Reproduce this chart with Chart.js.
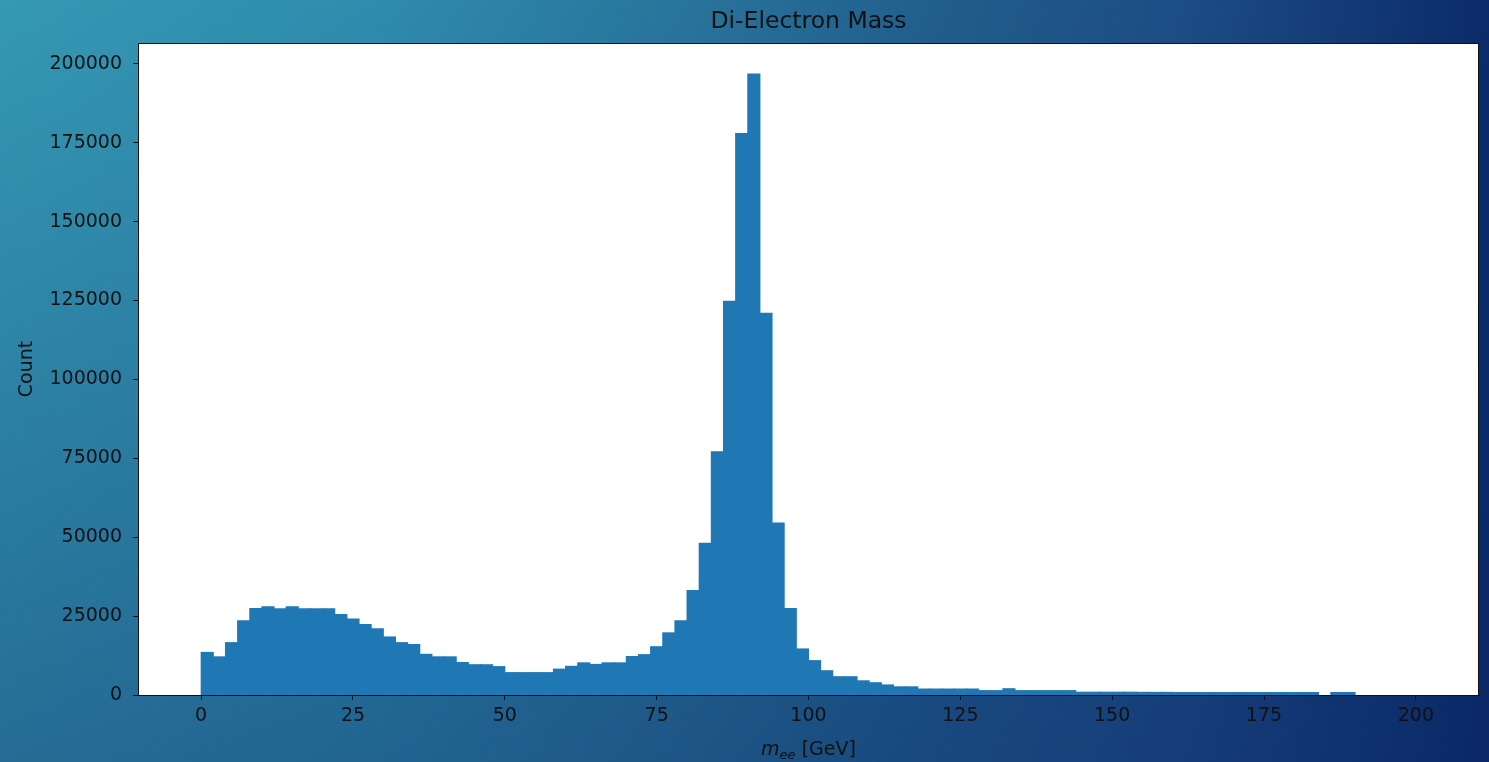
<!DOCTYPE html>
<html lang="en">
<head>
	<meta charset="utf-8">
	<script src="https://cdn.jsdelivr.net/npm/chart.js@4.4.1/dist/chart.umd.min.js"></script>
	<title>Di-Electron Mass</title>
<style>
body {
	margin: 0;
}
#wrap {
	position: relative;
	width: 1489px;
	height: 762px;
	overflow: hidden;
	font-family: "DejaVu Sans", sans-serif;
	color: #111;
	background:
		linear-gradient(to bottom, rgba(10, 35, 100, 0) 0%, rgba(10, 35, 100, 0.38) 100%),
		linear-gradient(to right, #3599b3 0%, #2f8cae 25%, #28739b 47%, #215f8e 62%, #1c4c84 80%, #0b2b69 100%);
}
#box {
	position: absolute;
	left: 0;
	top: 0;
	width: 1489px;
	height: 762px;
}
.title {
	position: absolute;
	left: 138px;
	width: 1341px;
	top: 6px;
	line-height: 28px;
	font-size: 23.5px;
	text-align: center;
}
.xlabel {
	position: absolute;
	left: 138px;
	width: 1341px;
	top: 737px;
	line-height: 22px;
	font-size: 19px;
	text-align: center;
}
.xlabel sub {
	font-size: 13px;
	font-style: italic;
	vertical-align: -4px;
	line-height: 0;
}
</style>
</head>
<body>
<div id="wrap">
	<div id="box"><canvas id="myChart"></canvas></div>
	<div class="title">Di-Electron Mass</div>
	<div class="xlabel"><i>m</i><sub>ee</sub> [GeV]</div>
</div>
<script>
// histogram bins, 2 GeV wide
const binCenters = [1, 3, 5, 7, 9, 11, 13, 15, 17, 19,
	21, 23, 25, 27, 29, 31, 33, 35, 37, 39,
	41, 43, 45, 47, 49, 51, 53, 55, 57, 59,
	61, 63, 65, 67, 69, 71, 73, 75, 77, 79,
	81, 83, 85, 87, 89, 91, 93, 95, 97, 99,
	101, 103, 105, 107, 109, 111, 113, 115, 117, 119,
	121, 123, 125, 127, 129, 131, 133, 135, 137, 139,
	141, 143, 145, 147, 149, 151, 153, 155, 157, 159,
	161, 163, 165, 167, 169, 171, 173, 175, 177, 179,
	181, 183, 185, 187, 189, 191, 193, 195, 197, 199];
const counts = [13500, 12100, 16600, 23500, 27400, 28000, 27300, 28000, 27300, 27300,
	27300, 25500, 24100, 22300, 21000, 18400, 16600, 16000, 12900, 12100,
	12100, 10300, 9600, 9600, 9000, 7100, 7100, 7100, 7100, 8200,
	9100, 10200, 9700, 10200, 10200, 12200, 12800, 15300, 19700, 23500,
	33100, 48100, 77100, 124800, 177900, 196800, 121000, 54500, 27400, 14600,
	10900, 7700, 5800, 5800, 4500, 3900, 3200, 2600, 2600, 1900,
	1900, 1900, 1900, 1900, 1400, 1400, 2000, 1400, 1400, 1400,
	1400, 1400, 900, 900, 900, 900, 900, 850, 850, 850,
	800, 800, 800, 800, 800, 800, 800, 800, 800, 800,
	800, 800, 0, 800, 800, 0, 0, 0, 0, 0];
const xTicks = [0, 25, 50, 75, 100, 125, 150, 175, 200];
const yTicks = [0, 25000, 50000, 75000, 100000, 125000, 150000, 175000, 200000];

Chart.defaults.font.family = '"DejaVu Sans", sans-serif';
Chart.defaults.color = '#111';

const frame = {
	id: 'frame',
	beforeDraw(chart) {
		const a = chart.chartArea;
		const c = chart.ctx;
		c.save();
		c.fillStyle = '#fff';
		c.fillRect(a.left, a.top, a.right - a.left, a.bottom - a.top);
		c.restore();
	},
	afterDraw(chart) {
		const a = chart.chartArea;
		const c = chart.ctx;
		c.save();
		c.strokeStyle = '#111';
		c.lineWidth = 1;
		c.strokeRect(a.left + 0.5, a.top + 0.5, a.right - a.left - 1, a.bottom - a.top);
		c.restore();
	}
};

const ctx = document.getElementById('myChart');
new Chart(ctx, {
	type: 'bar',
	data: {
		datasets: [{
			label: 'Count',
			// empty bins are left out so they draw nothing
			data: binCenters.map((x, i) => ({ x: x, y: counts[i] || null })),
			backgroundColor: '#1f77b4',
			borderWidth: 0,
			barPercentage: 1,
			categoryPercentage: 1,
			inflateAmount: 0.5
		}]
	},
	options: {
		responsive: true,
		maintainAspectRatio: false,
		animation: false,
		layout: { padding: { top: 43, right: 10, bottom: 0, left: 0 } },
		plugins: {
			legend: { display: false },
			tooltip: { enabled: false }
		},
		scales: {
			x: {
				type: 'linear',
				min: -10.4,
				max: 210.4,
				offset: false,
				afterBuildTicks: s => { s.ticks = xTicks.map(v => ({ value: v })); },
				afterFit: s => { s.height = 67; },
				grid: { offset: false, drawOnChartArea: false, tickLength: 5, color: '#111', tickColor: '#111' },
				border: { display: true, color: '#111', width: 1 },
				ticks: { font: { size: 19 }, padding: 5, maxRotation: 0, autoSkip: false, callback: v => String(v) }
			},
			y: {
				min: 0,
				max: 206600,
				afterBuildTicks: s => { s.ticks = yTicks.map(v => ({ value: v })); },
				afterFit: s => { s.width = 138; },
				grid: { drawOnChartArea: false, tickLength: 5, color: '#111', tickColor: '#111' },
				border: { display: true, color: '#111', width: 1 },
				ticks: { font: { size: 19 }, padding: 11, callback: v => String(v) },
				title: { display: true, text: 'Count', font: { size: 19 }, padding: { top: 16, bottom: 0 } }
			}
		}
	},
	plugins: [frame]
});
</script>
</body>
</html>
